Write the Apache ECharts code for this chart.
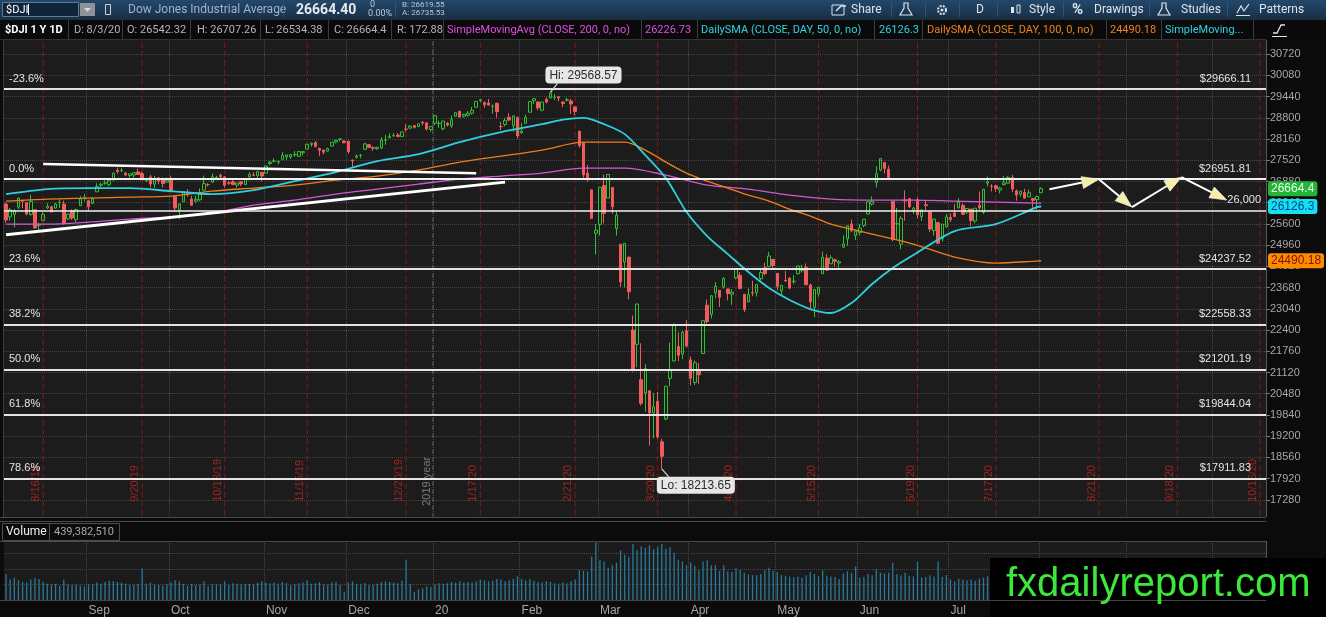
<!DOCTYPE html>
<html>
<head>
<meta charset="utf-8">
<title>$DJI 1 Y 1D</title>
<script src="https://cdn.jsdelivr.net/npm/echarts@6/dist/echarts.min.js"></script>
<style>
html,body{margin:0;padding:0;background:#0b0b0b;overflow:hidden;}
#chart{width:1326px;height:617px;}
</style>
</head>
<body>
<div id="chart"></div>
<script>
// ---------- data ----------
var firstDay = '2019-08-05';
var lastDay = '2020-10-19'; // chart runs on past the last bar (expansion area)
var holidays = ['2019-09-02', '2019-11-28', '2019-12-25', '2020-01-01', '2020-01-20',
  '2020-02-17', '2020-04-10', '2020-05-25', '2020-07-03', '2020-09-07'];
var expiryDates = ['2019-08-16', '2019-09-20', '2019-10-18', '2019-11-15', '2019-12-20',
  '2020-01-17', '2020-02-21', '2020-03-20', '2020-04-17', '2020-05-15', '2020-06-19',
  '2020-07-17', '2020-08-21', '2020-09-18', '2020-10-16'];
var yearStart = '2020-01-02';
var yearLabel = '2019 year';
var monthLabels = ['20', 'Feb', 'Mar', 'Apr', 'May', 'Jun', 'Jul', 'Aug', 'Sep', 'Oct', 'Nov', 'Dec'];

// daily bars, [open, close, low, high]
var ohlc = [
  // Aug 2019
  [26200,25718,25627,26250],[25812,26030,25700,26080],[25890,26008,25500,26040],[26108,26378,26050,26400],
  [26300,26287,26080,26320],[26240,25897,25860,26260],[25890,26280,25850,26480],[26030,25479,25460,26040],
  [25550,25579,25340,25640],[25700,25886,25690,25960],[26080,26135,26050,26230],[26120,25962,25960,26150],
  [26080,26202,26060,26240],[26240,26252,26080,26340],[26200,25628,25580,26300],[25750,25898,25730,25900],
  [26000,25778,25720,26040],[25730,26036,25660,26060],[26150,26362,26150,26440],[26400,26403,26290,26500],
  // Sep 2019
  [26300,26118,25980,26330],[26220,26355,26200,26400],[26570,26728,26570,26830],[26770,26797,26720,26840],
  [26830,26836,26780,26920],[26780,26909,26740,26910],[26930,27137,26900,27140],[27220,27182,27120,27300],
  [27210,27220,27160,27300],[27140,27076,27040,27160],[27060,27111,27000,27120],[27080,27147,26930,27160],
  [27170,27094,27080,27270],[27120,26935,26920,27180],[26900,26949,26860,27000],[27020,26808,26700,27080],
  [26800,26970,26690,27050],[26990,26891,26800,27010],[26930,26820,26700,27000],[26860,26917,26850,27000],
  // Oct 2019
  [26960,26573,26560,27050],[26420,26079,25990,26430],[26040,26201,25740,26210],[26270,26573,26270,26580],
  [26500,26478,26420,26650],[26350,26165,26160,26450],[26290,26347,26240,26450],[26330,26497,26280,26670],
  [26620,26817,26620,27060],[26790,26787,26730,26830],[26860,27024,26850,27120],[26980,27001,26940,27050],
  [27070,27026,26970,27120],[27020,26770,26700,27040],[26840,26828,26780,26900],[26870,26788,26770,26930],
  [26770,26834,26700,26840],[26870,26806,26740,26890],[26790,26958,26780,26990],[27020,27091,27000,27170],
  [27080,27071,27040,27160],[27060,27186,26990,27200],[27160,27046,26890,27160],
  // Nov 2019
  [27130,27347,27130,27350],[27420,27462,27380,27500],[27490,27493,27460,27580],[27470,27492,27400,27500],
  [27550,27675,27550,27770],[27620,27681,27530,27690],[27620,27691,27560,27700],[27690,27691,27630,27800],
  [27640,27784,27620,27790],[27750,27782,27670,27800],[27860,28005,27860,28010],[28000,28036,27930,28050],
  [28060,27934,27910,28090],[27880,27821,27650,27900],[27830,27766,27700,27840],[27800,27876,27780,27900],
  [27950,28066,27950,28070],[28070,28121,28030,28140],[28150,28164,28090,28170],[28100,28051,28030,28120],
  // Dec 2019
  [28100,27783,27720,28100],[27530,27502,27320,27540],[27610,27649,27570,27700],[27670,27677,27580,27710],
  [27850,28015,27850,28050],[27990,27909,27900,28010],[27900,27881,27800,27950],[27870,27911,27840,27930],
  [27900,28132,27860,28220],[28130,28135,27990,28290],[28200,28235,28190,28340],[28260,28267,28230,28340],
  [28280,28239,28220,28340],[28240,28376,28220,28380],[28460,28455,28380,28600],[28490,28551,28480,28580],
  [28570,28515,28480,28580],[28540,28621,28520,28630],[28670,28645,28580,28700],[28650,28462,28420,28670],
  [28450,28538,28380,28550],
  // Jan 2020
  [28640,28868,28580,28870],[28630,28634,28500,28720],[28470,28703,28420,28710],[28640,28583,28540,28680],
  [28560,28745,28500,28870],[28850,28957,28840,28970],[29000,28824,28820,29010],[28850,28907,28810,28910],
  [28880,28940,28840,29010],[28940,29030,28900,29130],[29120,29298,29110,29300],[29320,29348,29260,29370],
  [29270,29196,29100,29270],[29250,29186,29180,29370],[29150,29160,28930,29200],[29240,28990,28810,29260],
  [28540,28536,28430,28680],[28600,28723,28540,28800],[28820,28734,28700,28940],[28560,28859,28380,28880],
  [28810,28256,28170,28840],
  // Feb 2020
  [28350,28399,28320,28650],[28640,28808,28630,28890],[28970,29291,28970,29310],[29320,29380,29220,29380],
  [29280,29103,29030,29290],[29030,29277,29000,29280],[29360,29276,29240,29420],[29400,29551,29390,29568.57],
  [29420,29423,29340,29520],[29440,29398,29300,29460],[29280,29232,29120,29300],[29330,29348,29300,29410],
  [29310,29219,28920,29370],[29130,28992,28880,29140],[28400,27961,27900,28400],[28040,27081,26990,28060],
  [27130,26957,26880,27380],[26630,25766,25760,26630],[25320,25409,24680,25600],
  // Mar 2020
  [25590,26703,25250,26710],[26760,25917,25620,27090],[26380,27091,26380,27100],[26700,26121,25910,26710],
  [25460,25865,25250,25970],[24990,23851,23700,24990],[24450,25018,23690,25020],[24600,23553,23330,24600],
  [22400,21200,21150,22840],[21970,23186,21280,23190],[20900,20189,20120,22000],[20500,21237,19940,21370],
  [20570,19899,18920,20570],[19900,20087,19130,20500],[20250,19174,19120,20530],[19030,18592,18213.65,19120],
  [19720,20704,19680,20710],[20940,21200,20710,22020],[21470,22552,21460,22600],[21900,21637,21460,22330],
  [21680,22327,21520,22380],[22380,21917,21870,22700],
  // Apr 2020
  [21500,20944,20730,21600],[20820,21413,20740,21480],[21200,21053,20780,21400],[21690,22680,21690,22700],
  [23150,22654,22600,23320],[22880,23434,22750,23440],[23520,23719,23360,23850],[23600,23390,23100,23600],
  [23710,23950,23650,24000],[23640,23505,23300,23650],[23480,23538,23160,23630],[23970,24242,23930,24270],
  [24050,23650,23640,24150],[23480,23019,22940,23480],[23250,23475,23250,23660],[23530,23516,23420,23890],
  [23530,23775,23410,23780],[23950,24134,23900,24220],[24280,24102,24050,24430],[24310,24634,24300,24760],
  [24530,24346,24240,24540],
  // May 2020
  [24110,23724,23590,24110],[23580,23750,23460,23760],[23900,23883,23850,24180],[23960,23664,23650,24000],
  [23860,23876,23790,24050],[24100,24331,24080,24350],[24190,24222,24130,24370],[24290,23765,23760,24410],
  [23760,23248,23040,23800],[23080,23625,22790,23630],[23500,23685,23410,23690],[24100,24597,24100,24770],
  [24570,24207,24200,24690],[24400,24576,24390,24660],[24520,24474,24320,24560],[24420,24465,24250,24510],
  [24900,24995,24880,25260],[25150,25548,24940,25560],[25600,25401,25350,25730],[25260,25383,25120,25410],
  // Jun 2020
  [25340,25475,25250,25600],[25550,25742,25500,25750],[25900,26270,25890,26280],[26200,26282,26160,26430],
  [26850,27111,26700,27340],[27230,27572,27190,27580],[27450,27272,27120,27450],[27250,26990,26960,27360],
  [26280,25128,25080,26280],[25600,25606,25140,26080],[24990,25763,24840,25840],[26330,26290,25700,26610],
  [26360,26120,26080,26390],[26000,26080,25900,26120],[26330,25871,25760,26400],[25820,26025,25690,26030],
  [26180,26156,26010,26290],[25960,25445,25360,25990],[25400,25746,25250,25750],[25640,25016,24990,25660],
  [25150,25596,25070,25600],[25510,25813,25500,25900],
  // Jul 2020
  [25800,25735,25660,25920],[25930,25827,25810,26200],[26080,26287,26080,26380],[26160,25890,25880,26220],
  [25960,26067,25900,26070],[26050,25706,25520,26050],[25690,26075,25620,26080],[26160,26086,26020,26580],
  [25950,26643,25900,26660],[26830,26870,26730,27030],[26740,26735,26580,26800],[26750,26672,26570,26790],
  [26620,26681,26520,26720],[26790,26840,26760,27050],[26830,27006,26820,27040],[27000,26653,26560,27080],
  [26600,26470,26300,26640],[26500,26585,26420,26600],[26550,26379,26370,26660],[26420,26540,26420,26640],
  [26370,26314,26090,26380],[26330,26428,26010,26450],
  // Aug 3 2020
  [26542.32,26664.4,26534.38,26707.26]
];

// daily volume, millions
var volumeM = [
  420,330,360,320,290,280,330,360,340,290,260,250,260,230,330,250,240,250,230,220,
  250,260,280,260,290,310,300,290,280,260,240,250,260,510,260,280,250,240,230,260,
  280,320,300,260,230,260,240,250,300,220,260,250,250,300,240,270,260,250,260,260,250,280,300,
  280,270,280,260,290,270,240,260,270,280,320,260,270,290,250,250,280,290,240,130,
  280,300,260,250,270,240,250,260,290,300,290,280,270,310,650,260,130,170,190,220,210,
  250,270,260,270,290,280,300,280,290,280,300,330,320,300,310,340,330,300,320,340,380,
  340,320,340,310,290,280,300,290,270,260,280,270,300,330,480,470,460,700,930,
  640,620,520,560,600,800,730,700,900,800,860,840,880,820,860,900,830,850,760,650,620,560,
  600,550,480,620,640,560,560,470,560,460,450,510,480,440,410,400,400,420,480,520,470,
  450,400,390,380,370,380,360,400,450,420,380,480,390,380,370,340,430,460,440,540,
  360,370,420,400,500,440,430,440,600,420,400,440,390,380,620,360,370,400,380,620,370,400,
  330,300,340,330,320,330,310,340,360,380,330,410,320,330,350,330,340,320,310,330,340,400,
  439.38
];

// moving averages, [bar index, value]
var sma200 = [[0,25596],[10,25596],[20,25656],[30,25747],[40,25807],[50,25928],[60,26169],[70,26320],
  [80,26500],[90,26651],[100,26802],[110,26952],[120,27043],[130,27133],[140,27284],[150,27284],
  [160,27073],[170,26772],[180,26651],[190,26470],[200,26350],[210,26320],[220,26320],[230,26289],
  [240,26259],[250,26229],[251,26226.73]];
var sma50 = [[0,26500],[10,26651],[20,26681],[30,26681],[40,26591],[50,26500],[60,26620],[70,26892],
  [80,27164],[90,27495],[100,27706],[110,28068],[120,28369],[130,28610],[135,28746],[140,28800],
  [145,28610],[150,28309],[155,27676],[160,26983],[165,25958],[170,25235],[175,24692],[180,24149],
  [185,23667],[190,23306],[195,23034],[200,22914],[205,23215],[210,23788],[215,24270],[220,24662],
  [230,25385],[240,25596],[250,26109],[251,26126.3]];
var sma100 = [[0,26289],[10,26350],[20,26380],[30,26410],[40,26440],[50,26591],[60,26681],[70,26772],
  [80,26922],[90,27043],[100,27224],[110,27465],[120,27646],[130,27827],[140,28068],[150,28068],
  [155,27827],[160,27465],[165,27133],[170,26892],[175,26681],[180,26470],[185,26289],[190,26048],
  [195,25837],[200,25596],[205,25446],[210,25295],[220,24993],[230,24602],[240,24421],[250,24481],
  [251,24490.18]];

var fibLevels = [['-23.6%', 29666.11], ['0.0%', 26951.81], ['23.6%', 24237.52], ['38.2%', 22558.33],
  ['50.0%', 21201.19], ['61.8%', 19844.04], ['78.6%', 17911.83]];
var level26k = 26000;
var trendTop = [['2019-08-16', 27405], ['2020-01-16', 27130]];
var trendLow = [['2019-08-05', 25274], ['2020-01-28', 26862]];
var projection = [['2020-08-05', 26650], ['2020-08-21', 26950], ['2020-09-02', 26110],
  ['2020-09-21', 27010], ['2020-10-06', 26320]];
var callouts = [['2020-02-12', 29568.57, 'Hi: 29568.57'], ['2020-03-23', 18213.65, 'Lo: 18213.65']];
var lastClose = 26664.4, lastSma50 = 26126.3, lastSma100 = 24490.18;
var priceTicks = {min: 16640, max: 31360, step: 640};

// ---------- categories: trading days ----------
var categories = [];
(function () {
  var d = new Date(firstDay + 'T00:00:00Z');
  var end = new Date(lastDay + 'T00:00:00Z').getTime();
  while (d.getTime() <= end) {
    var wd = d.getUTCDay();
    var s = d.toISOString().slice(0, 10);
    if (wd !== 0 && wd !== 6 && holidays.indexOf(s) < 0) categories.push(s);
    d.setUTCDate(d.getUTCDate() + 1);
  }
})();

var monthStart = categories.map(function (c, i) {
  return i > 0 && c.slice(5, 7) !== categories[i - 1].slice(5, 7);
});
function isMonthStart(index) { return !!monthStart[index]; }
function monthName(value) { return monthLabels[parseInt(value.slice(5, 7), 10) - 1]; }
function idx(date) { return categories.indexOf(date); }

var FONT = '"Liberation Sans", Arial, sans-serif';
var UI = 'Roboto, "Liberation Sans", sans-serif';

// ---------- mark lines (fib levels, 26k) ----------
var lines = [];
fibLevels.forEach(function (f) {
  var ls = {color: '#f0f0f0', width: f[0] === '0.0%' ? 2 : 1.5, type: 'solid'};
  lines.push({yAxis: f[1], lineStyle: ls,
    label: {show: true, position: 'insideStartTop', formatter: f[0], color: '#e4e4e4', fontSize: 11, fontFamily: FONT}});
  lines.push({yAxis: f[1], lineStyle: ls,
    label: {show: true, position: 'insideEndTop', formatter: '$' + f[1].toFixed(2), color: '#e4e4e4',
      fontSize: 11, fontFamily: FONT, padding: [0, 10, 0, 0]}});
});
lines.push({yAxis: level26k, lineStyle: {color: '#f0f0f0', width: 1.5, type: 'solid'},
  label: {show: true, position: 'insideEndTop', formatter: '26,000', color: '#e4e4e4', fontSize: 11, fontFamily: FONT}});

// ---------- overlay renderers ----------
var expiryIdx = expiryDates.map(idx);
function renderExpiry(params, api) {
  var i = api.value(0);
  var x = api.coord([i, 20000])[0];
  var cs = params.coordSys;
  var d = expiryDates[params.dataIndex].split('-');
  var text = parseInt(d[1], 10) + '/' + parseInt(d[2], 10) + '/' + d[0].slice(2);
  return {type: 'group', children: [
    {type: 'line', shape: {x1: x, y1: cs.y, x2: x, y2: cs.y + cs.height},
      style: {stroke: '#7c1919', lineWidth: 1, lineDash: [6, 3]}},
    {type: 'text', x: x - 7, y: api.coord([i, 17220])[1], rotation: Math.PI / 2,
      style: {text: text, fill: '#a32121', font: '11px ' + FONT, textAlign: 'left', textVerticalAlign: 'middle'}}
  ]};
}
function renderYear(params, api) {
  var i = api.value(0);
  var x = api.coord([i, 20000])[0] - api.size([1, 0])[0] / 2;
  var cs = params.coordSys;
  return {type: 'group', children: [
    {type: 'line', shape: {x1: x, y1: cs.y, x2: x, y2: cs.y + cs.height},
      style: {stroke: '#5c5c5c', lineWidth: 1, lineDash: [5, 3]}},
    {type: 'text', x: x - 6, y: api.coord([i, 17100])[1], rotation: Math.PI / 2,
      style: {text: yearLabel, fill: '#7a7a7a', font: '11px ' + FONT, textAlign: 'left', textVerticalAlign: 'middle'}}
  ]};
}
var segments = [];
for (var k = 0; k < projection.length - 1; k++) {
  segments.push([idx(projection[k][0]), projection[k][1], idx(projection[k + 1][0]), projection[k + 1][1]]);
}
function renderArrow(params, api) {
  var a = api.coord([api.value(0), api.value(1)]);
  var b = api.coord([api.value(2), api.value(3)]);
  var ang = Math.atan2(b[1] - a[1], b[0] - a[0]);
  var L = 17, W = 6;
  var bx = b[0] - L * Math.cos(ang), by = b[1] - L * Math.sin(ang);
  var px = -Math.sin(ang) * W, py = Math.cos(ang) * W;
  return {type: 'group', children: [
    {type: 'line', shape: {x1: a[0], y1: a[1], x2: bx, y2: by}, style: {stroke: '#ffffff', lineWidth: 2}},
    {type: 'polygon', shape: {points: [[b[0], b[1]], [bx + px, by + py], [bx - px, by - py]]},
      style: {fill: '#f3efa6', stroke: '#ffffff', lineWidth: 0.6}}
  ]};
}
function renderCallout(params, api) {
  var p = api.coord([api.value(0), api.value(1)]);
  var c = callouts[params.dataIndex];
  var up = params.dataIndex === 0;
  var bx = p[0] - 5, by = up ? p[1] - 26 : p[1] + 8;
  return {type: 'group', children: [
    {type: 'line', shape: {x1: p[0], y1: p[1], x2: p[0] + 7, y2: up ? by + 17 : by},
      style: {stroke: '#d8d8d8', lineWidth: 1.2}},
    {type: 'text', x: bx, y: by,
      style: {text: c[2], fill: '#2a2a2a', font: '12px ' + FONT, textAlign: 'left', textVerticalAlign: 'top',
        backgroundColor: '#e6e6e6', padding: [3, 4, 2, 4], borderRadius: 4}}
  ]};
}
// price badges on the right axis for the last close and the two daily SMAs
var badges = [[lastSma100, '24490.18', '#ff8a00', '#7a1500'], [lastSma50, '26126.3', '#12e2f0', '#0a3b8c'],
  [lastClose, '26664.4', '#25b33a', '#eaffea']];
function renderBadge(params, api) {
  var b = badges[params.dataIndex];
  var cs = params.coordSys;
  var y = api.coord([0, api.value(1)])[1];
  return {type: 'text', x: cs.x + cs.width + 2, y: y,
    style: {text: b[1], fill: b[3], font: '12px ' + FONT, textAlign: 'left', textVerticalAlign: 'middle',
      backgroundColor: b[2], padding: [2, 3, 1, 3], borderRadius: 3}};
}

// ---------- header / chrome ----------
var header = [
  ['$DJI 1 Y 1D', 5, '#ffffff', 'bold'],
  ['D: 8/3/20', 74, '#b3b3b3'],
  ['O: 26542.32', 127, '#b3b3b3'],
  ['H: 26707.26', 197, '#b3b3b3'],
  ['L: 26534.38', 265, '#b3b3b3'],
  ['C: 26664.4', 334, '#b3b3b3'],
  ['R: 172.88', 397, '#b3b3b3'],
  ['SimpleMovingAvg (CLOSE, 200, 0, no)', 447, '#e04ee0'],
  ['26226.73', 645, '#e04ee0'],
  ['DailySMA (CLOSE, DAY, 50, 0, no)', 701, '#2fd3df'],
  ['26126.3', 879, '#2fd3df'],
  ['DailySMA (CLOSE, DAY, 100, 0, no)', 927, '#f0801e'],
  ['24490.18', 1110, '#f0801e'],
  ['SimpleMoving...', 1165, '#2fd3df']
];
var headerSeps = [68, 122, 190, 260, 328, 391, 443, 641, 697, 874, 922, 1106, 1161, 1253];
var toolbar = [['Share', 851], ['D', 976], ['Style', 1029], ['Drawings', 1094], ['Studies', 1181], ['Patterns', 1259]];
var toolbarSeps = [891, 925, 959, 997, 1063, 1149, 1227];

var g = [];
function txt(t, x, y, fill, font, align) {
  g.push({type: 'text', z: 101, x: x, y: y, style: {text: t, fill: fill, font: font,
    textAlign: align || 'left', textVerticalAlign: 'middle'}});
}
function rect(x, y, w, h, fill, stroke) {
  g.push({type: 'rect', z: 100, shape: {x: x, y: y, width: w, height: h},
    style: {fill: fill || 'none', stroke: stroke || 'none', lineWidth: 1}});
}
function vline(x, y1, y2, c) {
  g.push({type: 'line', z: 101, shape: {x1: x, y1: y1, x2: x, y2: y2}, style: {stroke: c, lineWidth: 1}});
}
function hline(y, x1, x2, c) {
  g.push({type: 'line', z: 101, shape: {x1: x1, y1: y, x2: x2, y2: y}, style: {stroke: c, lineWidth: 1}});
}
// top toolbar
g.push({type: 'rect', z: 100, shape: {x: 0, y: 0, width: 1326, height: 19},
  style: {fill: new echarts.graphic.LinearGradient(0, 0, 0, 1, [{offset: 0, color: '#24476a'}, {offset: 1, color: '#163048'}])}});
rect(2.5, 2.5, 76, 14, '#0f2438', '#5a7b9b');
txt('$DJI', 6, 10, '#ffffff', '11px ' + UI);
vline(28.5, 4, 15, '#ffffff');
rect(80, 3, 15, 13, '#8d9399');
g.push({type: 'polygon', z: 101, shape: {points: [[84, 8], [91, 8], [87.5, 12]]}, style: {fill: '#d8d8d8'}});
rect(105.5, 4.5, 5, 10, 'none', '#c8d2dc');
txt('Dow Jones Industrial Average', 128, 10, '#9fb2c6', '12px ' + UI);
vline(283.5, 2, 17, '#34526f');
txt('26664.40', 296, 10, '#e8e8e8', 'bold 14px ' + UI);
txt('0', 370, 5, '#c0c8d0', '9px ' + UI);
txt('0.00%', 368, 14, '#c0c8d0', '9px ' + UI);
vline(395.5, 2, 17, '#34526f');
txt('B: 26619.55', 402, 5, '#b8c4d0', '8px ' + UI);
txt('A: 26735.53', 402, 13, '#b8c4d0', '8px ' + UI);
toolbar.forEach(function (t) { txt(t[0], t[1], 10, '#dde3ea', '12px ' + UI); });
toolbarSeps.forEach(function (x) { vline(x + 0.5, 2, 17, '#34526f'); });
// toolbar icons (simple shapes)
rect(832, 5, 12, 10, 'none', '#dde3ea');
g.push({type: 'polyline', z: 101, shape: {points: [[836, 11], [841, 6], [846, 6]]}, style: {stroke: '#dde3ea', lineWidth: 1.5}});
g.push({type: 'polygon', z: 101, shape: {points: [[904, 3], [908, 3], [908, 8], [912, 15], [900, 15], [904, 8]]}, style: {fill: 'none', stroke: '#dde3ea', lineWidth: 1.2}});
g.push({type: 'circle', z: 101, shape: {cx: 942, cy: 10, r: 4}, style: {fill: 'none', stroke: '#dde3ea', lineWidth: 2, lineDash: [2, 1.2]}});
g.push({type: 'circle', z: 101, shape: {cx: 942, cy: 10, r: 1.5}, style: {fill: '#dde3ea'}});
rect(1011, 7, 3, 6, '#dde3ea'); rect(1017, 5, 3, 8, 'none', '#dde3ea');
txt('%', 1072, 10, '#dde3ea', 'bold 15px ' + UI);
g.push({type: 'polygon', z: 101, shape: {points: [[1162, 3], [1166, 3], [1166, 8], [1170, 15], [1158, 15], [1162, 8]]}, style: {fill: 'none', stroke: '#dde3ea', lineWidth: 1.2}});
g.push({type: 'polyline', z: 101, shape: {points: [[1237, 13], [1241, 6], [1244, 11], [1249, 4]]}, style: {stroke: '#dde3ea', lineWidth: 1.2}});
hline(15.5, 1236, 1250, '#dde3ea');

// study header row
rect(0, 19, 1326, 21, '#0a0a0a');
hline(19.5, 0, 1326, '#2a2a2a');
hline(39.5, 0, 1266, '#333333');
header.forEach(function (h) { txt(h[0], h[1], 30, h[2], (h[3] ? 'bold ' : '') + '11px ' + UI); });
headerSeps.forEach(function (x) { vline(x + 0.5, 20, 39, '#3c3c3c'); });
g.push({type: 'polyline', z: 101, shape: {points: [[1273, 33], [1277, 33], [1281, 25], [1285, 25]]}, style: {stroke: '#e0e0e0', lineWidth: 1.3}});
hline(36.5, 1272, 1287, '#e0e0e0');

// panel separator + volume header
rect(0, 517, 1326, 24, '#0b0b0b');
hline(517.5, 0, 1266, '#4a4a4a');
hline(521.5, 0, 1266, '#4a4a4a');
hline(541.5, 0, 1266, '#4a4a4a');
rect(2.5, 523.5, 47, 17, 'none', '#4f4f4f');
rect(49.5, 523.5, 70, 17, 'none', '#4f4f4f');
txt('Volume', 6, 532, '#f0f0f0', '12px ' + UI);
txt('439,382,510', 54, 532, '#a8a8a8', '11px ' + UI);
hline(600.5, 0, 1266, '#444444');
vline(3.5, 40, 517, '#3a3a3a');

// watermark
rect(990, 558, 336, 59, '#000000');
txt('fxdailyreport.com', 1006, 585, '#3de83d', '40px ' + FONT);

// ---------- chart ----------
var chart = echarts.init(document.getElementById('chart'), null, {renderer: 'canvas'});
var option = {
  backgroundColor: '#0b0b0b',
  animation: false,
  grid: [
    {left: 4, right: 60, top: 33, height: 488, show: true, backgroundColor: '#1c1c1c', borderWidth: 0},
    {left: 4, right: 60, top: 541, height: 59, show: true, backgroundColor: '#1b1b1b', borderWidth: 0}
  ],
  xAxis: [
    {type: 'category', gridIndex: 0, data: categories, boundaryGap: true,
      axisLine: {show: false}, axisTick: {show: false}, axisLabel: {show: false},
      splitLine: {show: true, interval: isMonthStart, lineStyle: {color: '#474747', type: 'dotted'}}},
    {type: 'category', gridIndex: 1, data: categories, boundaryGap: true,
      axisLine: {show: false}, axisTick: {show: false},
      axisLabel: {show: true, interval: isMonthStart, formatter: monthName, align: 'left',
        color: '#a6a6a6', fontSize: 12, fontFamily: FONT, margin: 5},
      splitLine: {show: true, interval: isMonthStart, lineStyle: {color: '#474747', type: 'dotted'}}}
  ],
  yAxis: [
    {type: 'value', gridIndex: 0, position: 'right', min: priceTicks.min, max: priceTicks.max, interval: priceTicks.step,
      axisLine: {show: true, lineStyle: {color: '#5a5a5a'}},
      axisTick: {show: true, length: 4, lineStyle: {color: '#777'}},
      axisLabel: {color: '#a6a6a6', fontSize: 11, fontFamily: FONT, margin: 4, showMinLabel: false, showMaxLabel: false,
        formatter: function (v) { return String(v); }},
      splitLine: {show: true, lineStyle: {color: '#474747', type: 'dotted'}}},
    {type: 'value', gridIndex: 1, position: 'right', min: 0, max: 950, interval: 250,
      axisLine: {show: true, lineStyle: {color: '#5a5a5a'}},
      axisTick: {show: false}, axisLabel: {show: false},
      splitLine: {show: true, lineStyle: {color: '#474747', type: 'dotted'}}}
  ],
  series: [
    {type: 'candlestick', name: '$DJI', xAxisIndex: 0, yAxisIndex: 0, data: ohlc, barWidth: 3,
      itemStyle: {color: 'rgba(0,0,0,0)', color0: '#f25b5b', borderColor: '#2fc133', borderColor0: '#f25b5b', borderWidth: 1},
      markLine: {symbol: ['none', 'none'], silent: true, animation: false, data: lines}},
    {type: 'line', name: 'SMA200', data: sma200, smooth: 0.3, showSymbol: false,
      lineStyle: {color: '#d457d4', width: 1.3}, z: 3},
    {type: 'line', name: 'SMA100', data: sma100, smooth: 0.3, showSymbol: false,
      lineStyle: {color: '#f07d18', width: 1.3}, z: 3},
    {type: 'line', name: 'SMA50', data: sma50, smooth: 0.3, showSymbol: false,
      lineStyle: {color: '#2fcfe0', width: 1.8}, z: 3},
    {type: 'line', name: 'trendTop', data: trendTop, showSymbol: false,
      lineStyle: {color: '#ffffff', width: 2.5}, z: 4},
    {type: 'line', name: 'trendLow', data: trendLow, showSymbol: false,
      lineStyle: {color: '#ffffff', width: 3}, z: 4},
    {type: 'custom', name: 'expiry', renderItem: renderExpiry, data: expiryIdx.map(function (i) { return [i, 20000]; }), z: 1, silent: true},
    {type: 'custom', name: 'year', renderItem: renderYear, data: [[idx(yearStart), 20000]], z: 1, silent: true},
    {type: 'custom', name: 'projection', renderItem: renderArrow, data: segments, z: 5, silent: true},
    {type: 'custom', name: 'callouts', renderItem: renderCallout, clip: false,
      data: callouts.map(function (c) { return [idx(c[0]), c[1]]; }), z: 6, silent: true},
    {type: 'custom', name: 'badges', renderItem: renderBadge, clip: false,
      data: badges.map(function (b) { return [0, b[0]]; }), z: 7, silent: true},
    {type: 'bar', name: 'Volume', xAxisIndex: 1, yAxisIndex: 1, data: volumeM, barWidth: 1.3,
      itemStyle: {color: '#2b7899'}}
  ],
  graphic: {elements: g}
};
chart.setOption(option);
window.addEventListener('resize', chart.resize);
</script>
</body>
</html>
